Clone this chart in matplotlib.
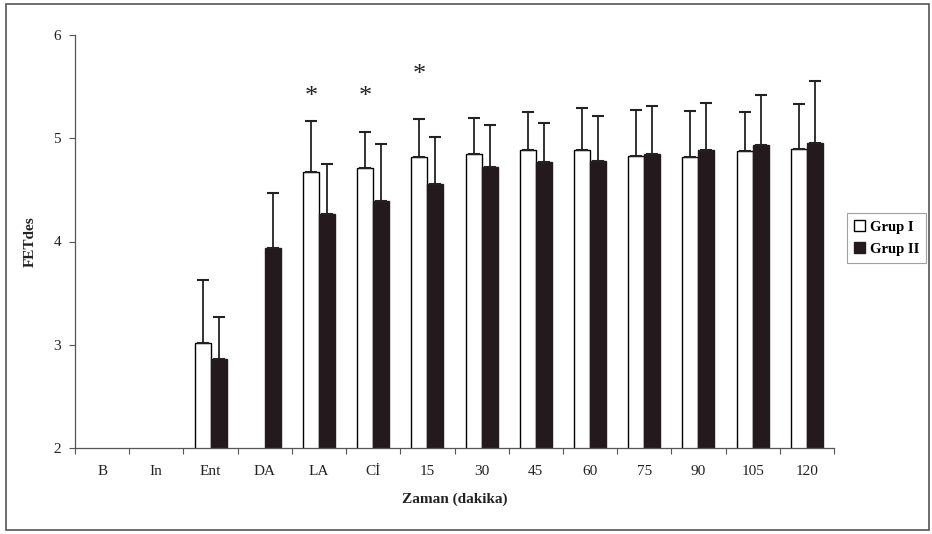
import numpy as np
import matplotlib
matplotlib.use("Agg")
import matplotlib.pyplot as plt
from matplotlib.patches import Rectangle

categories = ["B", "In", "Ent", "DA", "LA", "Cİ", "15", "30", "45", "60", "75", "90", "105", "120"]
grup1 = [np.nan, np.nan, 3.02, np.nan, 4.67, 4.71, 4.82, 4.85, 4.89, 4.89, 4.83, 4.82, 4.88, 4.90]
grup1_sd = [np.nan, np.nan, 0.61, np.nan, 0.50, 0.35, 0.37, 0.35, 0.36, 0.40, 0.44, 0.44, 0.37, 0.43]
grup2 = [np.nan, np.nan, 2.86, 3.94, 4.27, 4.39, 4.56, 4.72, 4.77, 4.78, 4.85, 4.89, 4.93, 4.95]
grup2_sd = [np.nan, np.nan, 0.41, 0.53, 0.48, 0.55, 0.45, 0.41, 0.38, 0.44, 0.46, 0.45, 0.49, 0.60]
star_cats = ["LA", "Cİ", "15"]
star_y = [5.40, 5.40, 5.61]
series_names = ["Grup I", "Grup II"]

W, H = 932, 534
plt.rcParams["font.family"] = ["Liberation Serif", "DejaVu Serif"]
fig = plt.figure(figsize=(W / 100, H / 100), dpi=100)
fig.patch.set_facecolor("white")

# outer frame
fig.add_artist(Rectangle((6 / W, 4 / H), 923 / W, 526 / H, transform=fig.transFigure,
                         fill=False, edgecolor="#555555", linewidth=1.2))

ax = fig.add_axes([75 / W, 86 / H, (834 - 75) / W, (448 - 35) / H])
x = np.arange(len(categories))
bw = 0.295
dark = "#241a1d"
axcol = "#555555"

b1 = ax.bar(x - bw / 2, grup1, bw, color="white", edgecolor="black", linewidth=1.0, label=series_names[0], zorder=2)
b2 = ax.bar(x + bw / 2, grup2, bw, color=dark, edgecolor=dark, linewidth=1.0, label=series_names[1], zorder=2)
ax.errorbar(x - bw / 2, grup1, yerr=[np.zeros(len(x)), grup1_sd], fmt="none", ecolor="#222222",
            elinewidth=1.3, capsize=4.5, capthick=1.5, zorder=3)
ax.errorbar(x + bw / 2, grup2, yerr=[np.zeros(len(x)), grup2_sd], fmt="none", ecolor="#222222",
            elinewidth=1.3, capsize=4.5, capthick=1.5, zorder=3)

for c, yv in zip(star_cats, star_y):
    i = categories.index(c)
    ax.text(i - bw / 2, yv, "*", ha="center", va="center", fontsize=19, color="#222222")

ax.set_xlim(-0.5, len(categories) - 0.5)
ax.set_ylim(2, 6)
ax.set_yticks([2, 3, 4, 5, 6])
ax.set_xticks(x)
ax.set_xticklabels(categories)
ax.set_xticks(np.arange(-0.5, len(categories)), minor=True)
ax.tick_params(axis="x", which="major", length=0, pad=12, labelsize=11, labelcolor="#222222")
ax.tick_params(axis="x", which="minor", length=4, direction="out", color=axcol, width=0.8)
ax.tick_params(axis="y", length=4, direction="out", color=axcol, width=0.8, pad=6,
               labelsize=11, labelcolor="#222222")
for s in ["top", "right"]:
    ax.spines[s].set_visible(False)
for s in ["left", "bottom"]:
    ax.spines[s].set_color(axcol)
    ax.spines[s].set_linewidth(0.9)
ax.set_facecolor("white")

ax.set_xlabel("Zaman (dakika)", fontsize=11, fontweight="bold", labelpad=11, color="#222222")
ax.set_ylabel("FETdes", fontsize=11, fontweight="bold", labelpad=12, color="#222222")

leg = fig.legend(handles=[b1, b2], labels=series_names, loc="center left",
                 bbox_to_anchor=(847 / W, 1 - 238 / H), frameon=True, fancybox=False,
                 prop={"weight": "bold", "size": 10.5}, handlelength=0.7, handleheight=0.7,
                 handletextpad=0.35, borderpad=0.5, labelspacing=0.6, borderaxespad=0)
leg.get_frame().set_edgecolor("#888888")
leg.get_frame().set_linewidth(0.8)

fig.savefig("out.png", dpi=100, facecolor="white")
